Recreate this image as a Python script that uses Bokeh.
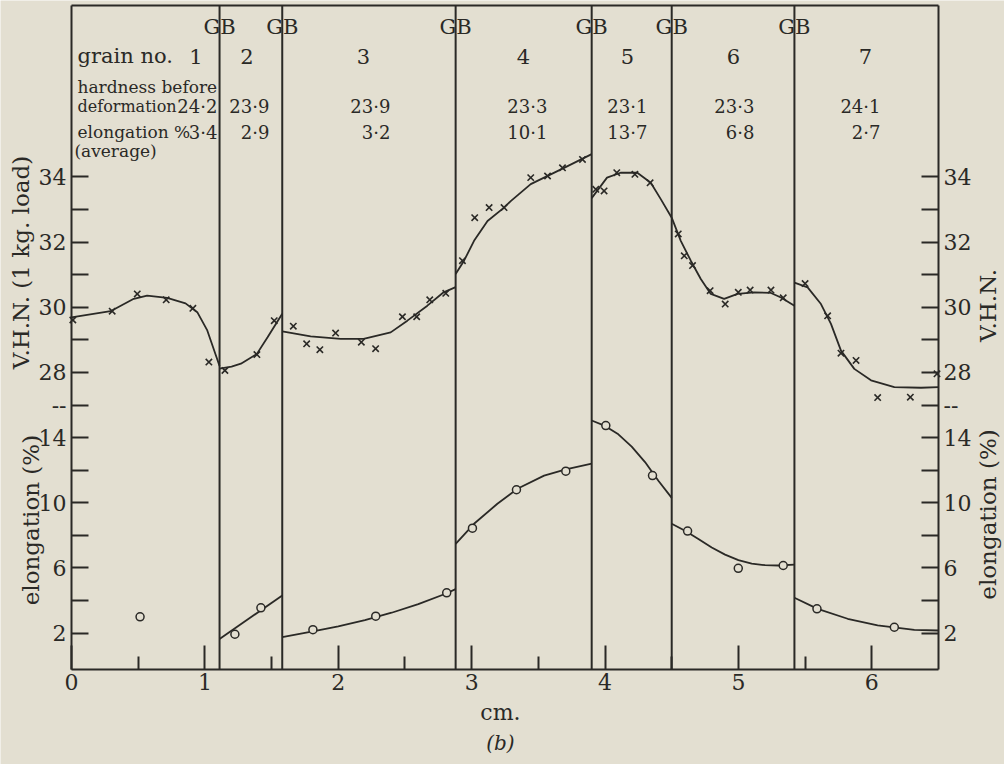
import math
from bokeh.plotting import figure
from bokeh.models import Range1d, LinearAxis, FixedTicker
from bokeh.core.properties import value
from bokeh.embed import file_html
from bokeh.resources import INLINE

PAPER = "#e3dfd1"
INK = "#2a2926"
FONT = "DejaVu Serif"

# ---------------- data ----------------
grain_no = ["1", "2", "3", "4", "5", "6", "7"]
hardness_before = [24.2, 23.9, 23.9, 23.3, 23.1, 23.3, 24.1]
elongation_avg = [3.4, 2.9, 3.2, 10.1, 13.7, 6.8, 2.7]
grain_boundaries = [1.11, 1.58, 2.88, 3.90, 4.50, 5.42]

x_ticks = [0, 1, 2, 3, 4, 5, 6]
x_minor_ticks = [0.5, 1.5, 2.5, 3.5, 4.5, 5.5]
vhn_ticks = [28, 29, 30, 31, 32, 33, 34]
vhn_tick_labels = {28: "28", 30: "30", 32: "32", 34: "34"}
elong_ticks = [2, 4, 6, 8, 10, 12, 14]
elong_tick_labels = {2: "2", 6: "6", 10: "10", 14: "14"}
break_tick = 16  # scale break (elongation 16 = V.H.N. 27)

# hardness (V.H.N.) measurements, per grain
g1_hv_x = [0.01, 0.305, 0.493, 0.71, 0.91, 1.03]
g1_hv_y = [29.61, 29.88, 30.41, 30.23, 29.97, 28.32]
g2_hv_x = [1.15, 1.39, 1.52]
g2_hv_y = [28.06, 28.55, 29.59]
g3_hv_x = [1.663, 1.763, 1.862, 1.98, 2.173, 2.28, 2.481, 2.588, 2.686, 2.806]
g3_hv_y = [29.42, 28.88, 28.70, 29.21, 28.93, 28.73, 29.71, 29.71, 30.23, 30.43]
g4_hv_x = [2.931, 3.023, 3.131, 3.243, 3.443, 3.569, 3.681, 3.831]
g4_hv_y = [31.43, 32.75, 33.06, 33.06, 33.98, 34.03, 34.28, 34.54]
g5_hv_x = [3.931, 3.993, 4.088, 4.224, 4.338]
g5_hv_y = [33.62, 33.57, 34.13, 34.08, 33.82]
g6_hv_x = [4.549, 4.594, 4.656, 4.788, 4.901, 4.999, 5.088, 5.244, 5.336]
g6_hv_y = [32.25, 31.58, 31.28, 30.51, 30.10, 30.46, 30.53, 30.53, 30.29]
g7_hv_x = [5.50, 5.669, 5.769, 5.882, 6.044, 6.289, 6.489]
g7_hv_y = [30.73, 29.74, 28.59, 28.37, 27.23, 27.24, 27.96]

# hardness fitted curves, per grain
g1_hvfit_x = [0.0, 0.293, 0.467, 0.567, 0.717, 0.855, 0.943, 1.018, 1.11]
g1_hvfit_y = [29.69, 29.88, 30.26, 30.36, 30.29, 30.12, 29.85, 29.29, 28.20]
g2_hvfit_x = [1.11, 1.20, 1.27, 1.39, 1.47, 1.58]
g2_hvfit_y = [28.12, 28.18, 28.27, 28.57, 29.08, 29.80]
g3_hvfit_x = [1.58, 1.793, 2.018, 2.19, 2.393, 2.518, 2.668, 2.79, 2.88]
g3_hvfit_y = [29.26, 29.11, 29.03, 29.03, 29.23, 29.59, 30.05, 30.46, 30.62]
g4_hvfit_x = [2.88, 2.943, 3.018, 3.119, 3.243, 3.293, 3.443, 3.693, 3.90]
g4_hvfit_y = [31.02, 31.43, 32.04, 32.65, 33.06, 33.26, 33.78, 34.28, 34.70]
g5_hvfit_x = [3.90, 4.015, 4.116, 4.242, 4.343, 4.418, 4.50]
g5_hvfit_y = [33.35, 33.98, 34.13, 34.13, 33.82, 33.32, 32.75]
g6_hvfit_x = [4.50, 4.568, 4.643, 4.718, 4.793, 4.893, 4.994, 5.118, 5.244, 5.319, 5.42]
g6_hvfit_y = [32.75, 32.04, 31.43, 30.87, 30.41, 30.26, 30.41, 30.46, 30.44, 30.30, 30.05]
g7_hvfit_x = [5.42, 5.519, 5.619, 5.694, 5.769, 5.869, 5.994, 6.169, 6.369, 6.50]
g7_hvfit_y = [30.76, 30.61, 30.10, 29.49, 28.67, 28.11, 27.76, 27.55, 27.53, 27.55]

# elongation measurements, per grain
g1_el_x = [0.514]
g1_el_y = [3.0]
g2_el_x = [1.225, 1.42]
g2_el_y = [1.93, 3.55]
g3_el_x = [1.81, 2.281, 2.813]
g3_el_y = [2.21, 3.04, 4.47]
g4_el_x = [3.006, 3.336, 3.706]
g4_el_y = [8.44, 10.80, 11.94]
g5_el_x = [4.006, 4.356]
g5_el_y = [14.74, 11.67]
g6_el_x = [4.619, 4.999, 5.336]
g6_el_y = [8.26, 5.98, 6.15]
g7_el_x = [5.589, 6.169]
g7_el_y = [3.49, 2.36]

# elongation fitted curves, per grain
g2_elfit_x = [1.11, 1.58]
g2_elfit_y = [1.64, 4.31]
g3_elfit_x = [1.58, 1.81, 2.0, 2.2, 2.4, 2.6, 2.8, 2.88]
g3_elfit_y = [1.75, 2.10, 2.42, 2.80, 3.25, 3.78, 4.40, 4.70]
g4_elfit_x = [2.88, 3.018, 3.193, 3.343, 3.543, 3.706, 3.90]
g4_elfit_y = [7.48, 8.71, 9.94, 10.86, 11.67, 12.05, 12.40]
g5_elfit_x = [3.90, 4.0, 4.1, 4.2, 4.3, 4.4, 4.5]
g5_elfit_y = [15.05, 14.72, 14.2, 13.45, 12.5, 11.35, 10.3]
g6_elfit_x = [4.50, 4.6, 4.7, 4.8, 4.9, 5.0, 5.1, 5.2, 5.3, 5.42]
g6_elfit_y = [8.71, 8.28, 7.78, 7.25, 6.82, 6.48, 6.27, 6.17, 6.15, 6.2]
g7_elfit_x = [5.42, 5.594, 5.819, 6.044, 6.319, 6.50]
g7_elfit_y = [4.17, 3.49, 2.88, 2.47, 2.20, 2.16]

# ---------------- scales ----------------
# two stacked scales: V.H.N. 28 sits at elongation 18; 1 V.H.N. unit = 2 elongation units
def e_of_v(v):
    return 2 * (v - 28) + 18

def v_of_e(e):
    return (e - 18) / 2 + 28

X0, X1 = 0.0, 6.5            # plotting box, cm
E0, E1 = -0.234, 40.527      # plotting box, elongation units
# canvas extents (the frame covers the whole canvas; the box is drawn by fixed axes)
CX0, CX1 = -0.5323, 6.995
CE0, CE1 = -6.066, 40.833

p = figure(width=1004, height=764, output_backend="svg", toolbar_location=None,
           x_range=Range1d(CX0, CX1), y_range=Range1d(CE0, CE1),
           min_border=0)
p.title = None
p.extra_y_ranges = {"vhn": Range1d(v_of_e(CE0), v_of_e(CE1))}
p.background_fill_color = PAPER
p.border_fill_color = PAPER
p.outline_line_color = None
p.xgrid.grid_line_color = None
p.ygrid.grid_line_color = None

all_y_ticks = elong_ticks + [break_tick] + [e_of_v(v) for v in vhn_ticks]
overrides = {t: "" for t in all_y_ticks}
for t, s in elong_tick_labels.items():
    overrides[t] = s
for v, s in vhn_tick_labels.items():
    overrides[e_of_v(v)] = s
overrides[break_tick] = "--"


def style_axis(ax, major_in, minor_in=0):
    ax.axis_line_color = INK
    ax.axis_line_width = 2
    ax.major_tick_line_color = INK
    ax.major_tick_line_width = 2
    ax.minor_tick_line_color = INK
    ax.minor_tick_line_width = 2
    ax.major_tick_in = major_in
    ax.major_tick_out = 0
    ax.minor_tick_in = minor_in
    ax.minor_tick_out = 0
    ax.major_label_text_font = FONT
    ax.major_label_text_font_size = "22px"
    ax.major_label_text_color = INK
    ax.major_label_standoff = 5


yl = p.yaxis[0]
yl.fixed_location = X0
yl.bounds = (E0, E1)
yl.ticker = FixedTicker(ticks=all_y_ticks, minor_ticks=[])
yl.major_label_overrides = overrides
style_axis(yl, 17)

yr = LinearAxis(fixed_location=X1, bounds=(E0, E1),
                ticker=FixedTicker(ticks=all_y_ticks, minor_ticks=[]),
                major_label_overrides=overrides)
style_axis(yr, 17)
p.add_layout(yr, "right")

xb = p.xaxis[0]
xb.fixed_location = E0
xb.bounds = (X0, X1)
xb.ticker = FixedTicker(ticks=x_ticks, minor_ticks=x_minor_ticks)
style_axis(xb, 24, 13)

# top edge of the box and grain boundaries
p.segment(x0=[X0], y0=[E1], x1=[X1], y1=[E1], line_color=INK, line_width=2)
p.segment(x0=grain_boundaries, y0=[E0] * len(grain_boundaries),
          x1=grain_boundaries, y1=[E1] * len(grain_boundaries),
          line_color=INK, line_width=2)

hv_fits = [(g1_hvfit_x, g1_hvfit_y), (g2_hvfit_x, g2_hvfit_y), (g3_hvfit_x, g3_hvfit_y),
           (g4_hvfit_x, g4_hvfit_y), (g5_hvfit_x, g5_hvfit_y), (g6_hvfit_x, g6_hvfit_y),
           (g7_hvfit_x, g7_hvfit_y)]
for xs, ys in hv_fits:
    p.line(xs, ys, line_color=INK, line_width=1.8, y_range_name="vhn")

hv_pts = [(g1_hv_x, g1_hv_y), (g2_hv_x, g2_hv_y), (g3_hv_x, g3_hv_y), (g4_hv_x, g4_hv_y),
          (g5_hv_x, g5_hv_y), (g6_hv_x, g6_hv_y), (g7_hv_x, g7_hv_y)]
for xs, ys in hv_pts:
    p.scatter(xs, ys, marker="x", size=9, line_color=INK, line_width=1.6, y_range_name="vhn")

el_fits = [(g2_elfit_x, g2_elfit_y), (g3_elfit_x, g3_elfit_y), (g4_elfit_x, g4_elfit_y),
           (g5_elfit_x, g5_elfit_y), (g6_elfit_x, g6_elfit_y), (g7_elfit_x, g7_elfit_y)]
for xs, ys in el_fits:
    p.line(xs, ys, line_color=INK, line_width=1.8)

el_pts = [(g1_el_x, g1_el_y), (g2_el_x, g2_el_y), (g3_el_x, g3_el_y), (g4_el_x, g4_el_y),
          (g5_el_x, g5_el_y), (g6_el_x, g6_el_y), (g7_el_x, g7_el_y)]
for xs, ys in el_pts:
    p.scatter(xs, ys, marker="circle", size=8, fill_color=PAPER, line_color=INK, line_width=1.5)

# ---------------- texts ----------------
def txt(xs, ys, texts, size, align="left", angle=0.0, style="normal"):
    p.text(x=xs, y=ys, text=texts, angle=angle, text_font=value(FONT),
           text_font_size=value(size), text_font_style=style,
           text_color=INK, text_align=align, text_baseline="middle")

def dotted(v):
    return f"{v:.1f}".replace(".", "\u00b7")

ROW_GB, ROW1, ROW2, ROW3, ROW4, ROW5 = 39.2, 37.4, 35.55, 34.32, 32.75, 31.62
LEFT = 0.045

txt(grain_boundaries, [ROW_GB] * len(grain_boundaries), ["GB"] * len(grain_boundaries), "21px", "center")

num_x = [0.933, 1.316, 2.189, 3.388, 4.168, 4.963, 5.952]
val_right = [1.094, 1.484, 2.391, 3.568, 4.318, 5.12, 6.065]

txt([LEFT], [ROW1], ["grain no."], "21px")
txt(num_x, [ROW1] * 7, grain_no, "21px", "center")
txt([LEFT], [ROW2], ["hardness before"], "17px")
txt([LEFT], [ROW3], ["deformation"], "16px")
txt(val_right, [ROW3] * 7, [dotted(v) for v in hardness_before], "18px", "right")
txt([LEFT], [ROW4], ["elongation %"], "17px")
txt(val_right, [ROW4] * 7, [dotted(v) for v in elongation_avg], "18px", "right")
txt([0.022], [ROW5], ["(average)"], "17px")

# axis titles and caption
txt([-0.382], [24.75], ["V.H.N. (1 kg. load)"], "23px", "center", math.pi / 2)
txt([-0.307], [8.94], ["elongation (%)"], "23px", "center", math.pi / 2)
txt([6.875], [22.11], ["V.H.N."], "23px", "center", math.pi / 2)
txt([6.875], [9.28], ["elongation (%)"], "23px", "center", math.pi / 2)
txt([3.216], [-2.874], ["cm."], "22px", "center")
txt([3.216], [-4.716], ["(b)"], "20px", "center", 0.0, "italic")

open("out.html", "w").write(file_html(p, INLINE))
